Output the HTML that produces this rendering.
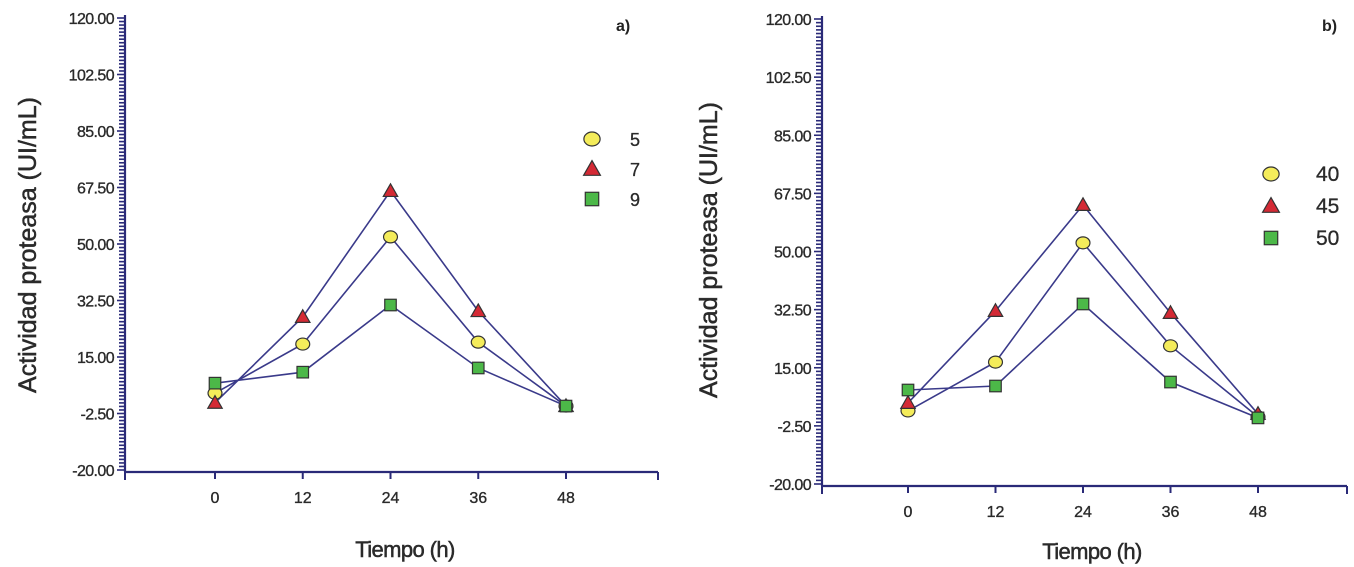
<!DOCTYPE html>
<html><head><meta charset="utf-8">
<style>
html,body{margin:0;padding:0;background:#fff;}
svg{display:block;font-family:"Liberation Sans",sans-serif;}
</style></head>
<body>
<svg id="fig" width="1354" height="567" viewBox="0 0 1354 567"></svg>
<script>
const xCategories = [0, 12, 24, 36, 48];
const yTickLabels = ["-20.00","-2.50","15.00","32.50","50.00","67.50","85.00","102.50","120.00"];
const yTickValues = [-20, -2.5, 15, 32.5, 50, 67.5, 85, 102.5, 120];
const aLegend = ["5", "7", "9"];
const aSeries5 = [3.8, 19.0, 52.2, 19.6, -0.2];
const aSeries7 = [0.8, 27.4, 66.4, 29.2, -0.2];
const aSeries9 = [6.9, 10.3, 31.1, 11.6, -0.2];
const bLegend = ["40", "45", "50"];
const bSeries40 = [2.0, 16.7, 52.6, 21.6, 0.2];
const bSeries45 = [4.4, 32.1, 64.0, 31.5, 1.1];
const bSeries50 = [8.3, 9.5, 34.2, 10.7, -0.1];

const NS = "http://www.w3.org/2000/svg";
const svg = document.getElementById("fig");
const AX = "#2a2a78";
const TXT = "#2a2a2a";
function mk(tag, attrs, parent){
  const e = document.createElementNS(NS, tag);
  for (const k in attrs) e.setAttribute(k, attrs[k]);
  (parent || svg).appendChild(e);
  return e;
}
function marker(g, shape, x, y, size){
  let e;
  if (shape === 0){
    e = mk("ellipse", {cx:x, cy:y, rx:size*0.58, ry:size*0.5, fill:"#f4ec5a", stroke:"#333", "stroke-width":1.2}, g);
  } else if (shape === 1){
    const s = size*0.6;
    e = mk("polygon", {points:`${x},${y-s} ${x+s},${y+s*0.75} ${x-s},${y+s*0.75}`, fill:"#d42a35", stroke:"#333", "stroke-width":1.2}, g);
  } else {
    const s = size*0.48;
    e = mk("rect", {x:x-s, y:y-s, width:2*s, height:2*s, fill:"#4cb848", stroke:"#333", "stroke-width":1.2}, g);
  }
  return e;
}
function chart(cfg){
  const g = mk("g", {});
  
  
  const xs = v => cfg.x0 + (v - 0) * (cfg.x48 - cfg.x0) / 48;
  const ys = v => cfg.yBot - (v + 20) * (cfg.yBot - cfg.yTop) / 140;
  const ya = mk("line", {x1:cfg.ax, y1:ys(120)-3, x2:cfg.ax, y2:cfg.base, stroke:AX, "stroke-width":2.2}, g);
  
  
  for (let i = 0; i <= 128; i++){
    const v = -20 + i * 140/128;
    const major = i % 16 === 0;
    mk("line", {x1:cfg.ax - (major?8:6), y1:ys(v), x2:cfg.ax, y2:ys(v), stroke:AX, "stroke-width":1.6}, g);
  }
  yTickLabels.forEach((t, i) => {
    const e = mk("text", {x:cfg.ax - 11, y:ys(yTickValues[i]) + 6, "text-anchor":"end", "font-size":16, fill:TXT, stroke:TXT, "stroke-width":0.35, "letter-spacing":"-0.6"}, g);
    e.textContent = t;
    
    
  });
  const xa = mk("line", {x1:cfg.ax, y1:cfg.base, x2:cfg.xEnd, y2:cfg.base, stroke:AX, "stroke-width":2.2}, g);
  
  
  mk("line", {x1:cfg.ax, y1:cfg.base, x2:cfg.ax, y2:cfg.base+8, stroke:AX, "stroke-width":2}, g);
  mk("line", {x1:cfg.xEnd, y1:cfg.base, x2:cfg.xEnd, y2:cfg.base+8, stroke:AX, "stroke-width":2}, g);
  xCategories.forEach(c => {
    mk("line", {x1:xs(c), y1:cfg.base, x2:xs(c), y2:cfg.base+7, stroke:AX, "stroke-width":2}, g);
    const e = mk("text", {x:xs(c), y:cfg.base + 31, "text-anchor":"middle", "font-size":16, fill:TXT, stroke:TXT, "stroke-width":0.35}, g);
    e.textContent = c;
    
    
  });
  const xt = mk("text", {x:cfg.xTitleX, y:cfg.xTitleY, "text-anchor":"middle", "font-size":22, fill:TXT, stroke:TXT, "stroke-width":0.5, "letter-spacing":"-0.6"}, g);
  xt.textContent = "Tiempo (h)";
  
  
  const yt = mk("text", {x:0, y:0, "text-anchor":"middle", "font-size":25, fill:TXT, stroke:TXT, "stroke-width":0.5, transform:`translate(${cfg.yTitleX},${cfg.yTitleY}) rotate(-90)`}, g);
  yt.textContent = "Actividad proteasa (UI/mL)";
  
  
  const pl = mk("text", {x:cfg.panelX, y:31, "font-size":16, "font-weight":"bold", fill:"#222"}, g);
  pl.textContent = cfg.panel;
  
  
  cfg.series.forEach((s, si) => {
    const pts = s.map((v, i) => `${xs(xCategories[i])},${ys(v)}`).join(" ");
    const ln = mk("polyline", {points:pts, fill:"none", stroke:"#3a3a8a", "stroke-width":1.6}, g);
    
    
  });
  cfg.series.forEach((s, si) => {
    s.forEach((v, i) => {
      const m = marker(g, si, xs(xCategories[i]), ys(v), 12);
      
      
    });
  });
  cfg.legend.forEach((l, i) => {
    const ly = cfg.legY + i * cfg.legDy;
    const m = marker(g, i, cfg.legX, ly, 14);
    
    
    const t = mk("text", {x:cfg.legTx, y:ly + 7, "font-size":cfg.legFs, fill:TXT, stroke:TXT, "stroke-width":0.3}, g);
    t.textContent = l;
    
    
  });
}
chart({name:"chart-a", ax:125, x0:215, x48:566, xEnd:658, yTop:18, yBot:470, base:472,
  series:[aSeries5, aSeries7, aSeries9], legend:aLegend, panel:"a)", panelX:616,
  xTitleX:405, xTitleY:557, yTitleX:36, yTitleY:245,
  legX:592, legTx:630, legY:139, legDy:30, legFs:18});
chart({name:"chart-b", ax:822, x0:908, x48:1258, xEnd:1347, yTop:19, yBot:484, base:486,
  series:[bSeries40, bSeries45, bSeries50], legend:bLegend, panel:"b)", panelX:1322,
  xTitleX:1092, xTitleY:559, yTitleX:717, yTitleY:250,
  legX:1271, legTx:1316, legY:174, legDy:32, legFs:21});
</script>
</body></html>
